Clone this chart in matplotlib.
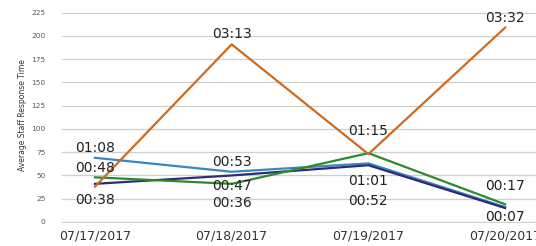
import matplotlib
matplotlib.use("Agg")
import matplotlib.pyplot as plt
import numpy as np

# Response times (minutes) per day
dates = ["07/17/2017", "07/18/2017", "07/19/2017", "07/20/2017"]
orange = [38, 191, 73, 209]
blue = [69, 54, 63, 16]
green = [48, 41, 74, 19]
purple = [41, 50, 61, 15]

# Data label texts per day, with the vertical spot where each sits
label_texts = [
    ["01:08", "00:48", "00:38"],
    ["03:13", "00:53", "00:47", "00:36"],
    ["01:15", "01:01", "00:52"],
    ["03:32", "00:17", "00:07"],
]
label_y = [
    [80, 58, 24],
    [202, 64, 39, 20],
    [98, 44, 23],
    [219, 39, 5],
]

fig = plt.figure(figsize=(5.36, 2.46), dpi=100)
ax = fig.add_axes([0.1157, 0.0947, 0.8843, 0.8565])

x = np.arange(len(dates))
for vals, color in [
    (blue, "#3A86C2"),
    (purple, "#2E2A78"),
    (green, "#2C8A2C"),
    (orange, "#CF6A1E"),
]:
    ax.plot(x, vals, color=color, linewidth=1.6)

for i, (texts, ys) in enumerate(zip(label_texts, label_y)):
    for t, y in zip(texts, ys):
        ax.text(x[i], y, t, ha="center", va="center", fontsize=10, color="#222222")

ax.set_xlim(-0.241, 3.226)
ax.set_ylim(-0.8, 225.8)
ax.set_yticks(np.arange(0, 226, 25))
ax.set_xticks(x)
ax.set_xticklabels(dates)
ax.tick_params(axis="x", length=0, labelsize=9, colors="#333333", pad=5)
ax.tick_params(axis="y", length=0, labelsize=5.3, colors="#595959", pad=12)
ax.grid(axis="y", color="#CFCFCF", linewidth=0.9)
ax.set_axisbelow(True)
for s in ax.spines.values():
    s.set_visible(False)

fig.text(23 / 536, 1 - 115 / 246, "Average Staff Response Time", rotation=90,
         ha="center", va="center", fontsize=5.5, color="#333333")

fig.savefig("out.png", dpi=100)
